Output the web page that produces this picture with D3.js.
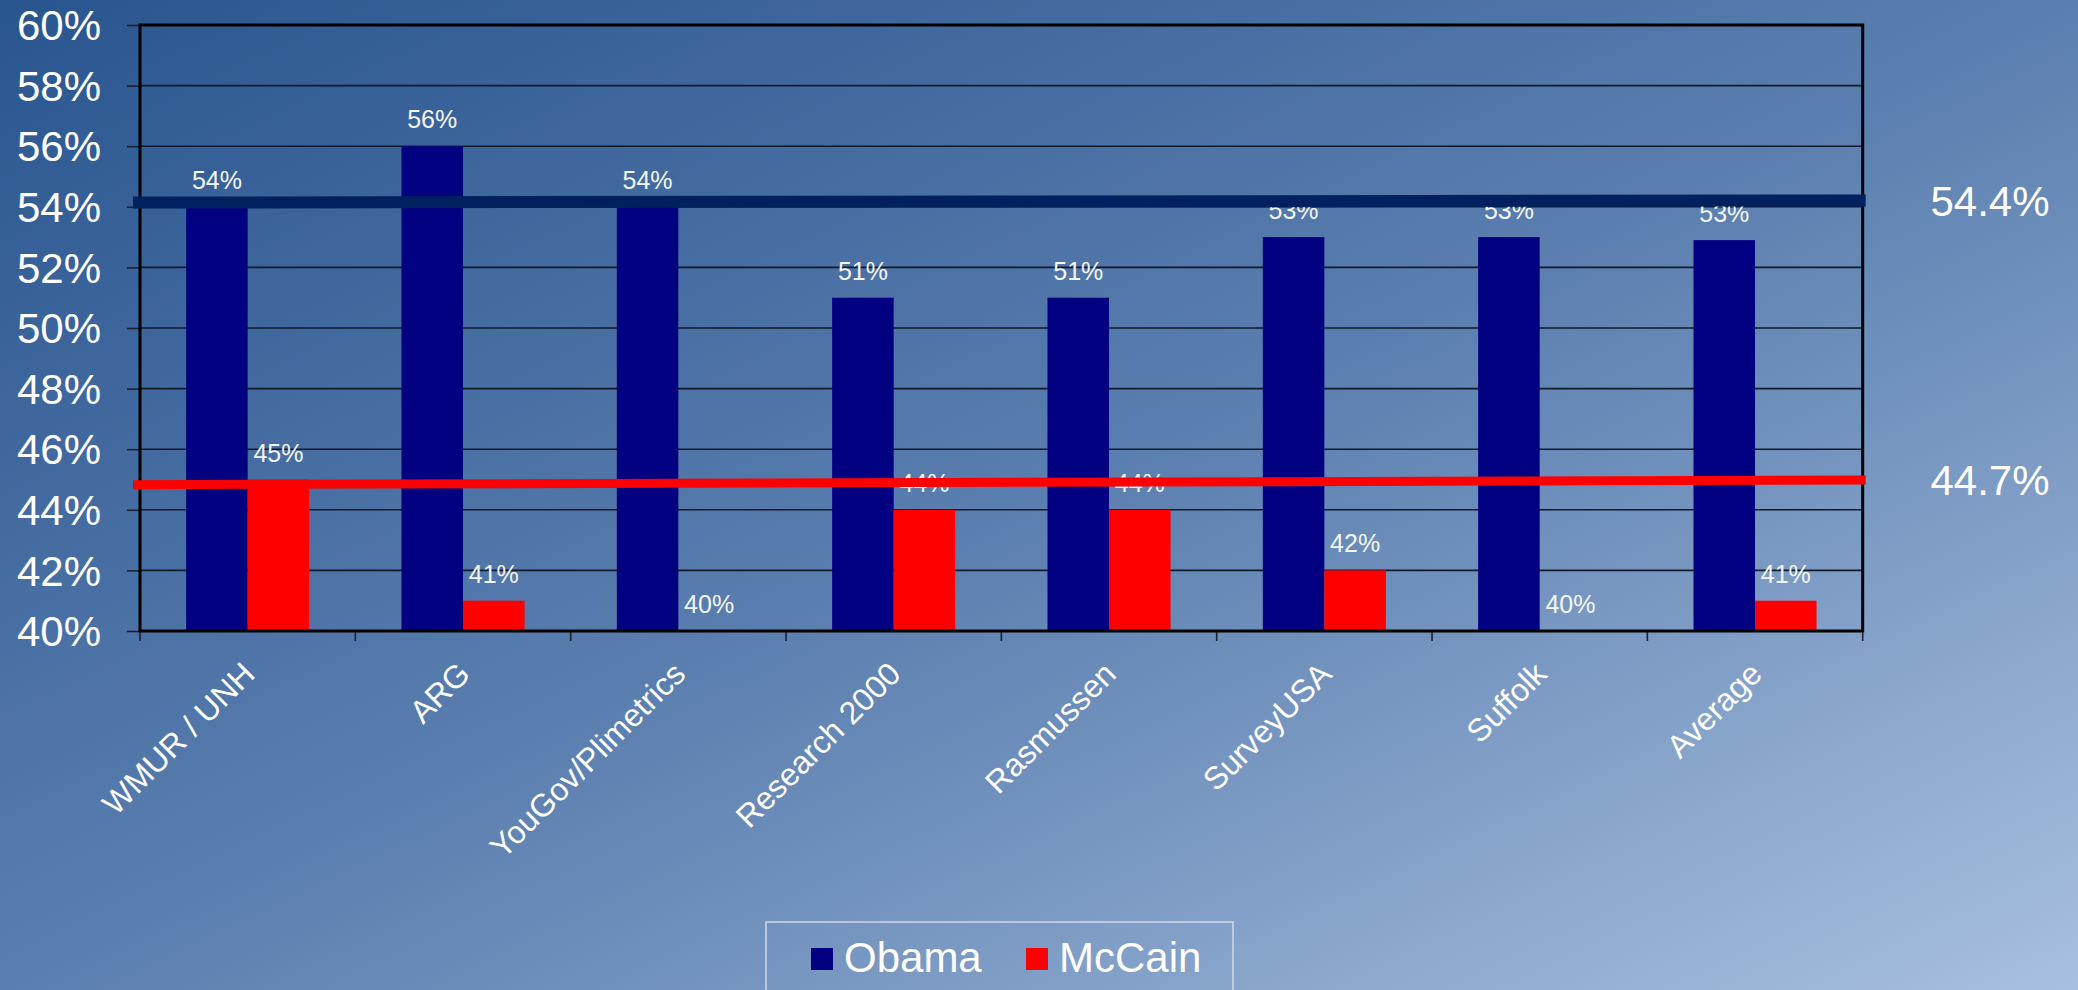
<!DOCTYPE html>
<html>
<head>
<meta charset="utf-8">
<script src="https://cdn.jsdelivr.net/npm/d3@7"></script>
<style>
  html, body { margin: 0; padding: 0; overflow: hidden; }
  svg { display: block; font-family: "Liberation Sans", Arial, sans-serif; }
</style>
</head>
<body>
<svg id="chart" width="2078" height="990"></svg>
<script>
// ---- data ----
const categories = ["WMUR / UNH", "ARG", "YouGov/Plimetrics", "Research 2000", "Rasmussen", "SurveyUSA", "Suffolk", "Average"];
const seriesNames = ["Obama", "McCain"];
const obamaValues = [54, 56, 54, 51, 51, 53, 53, 52.9];
const mccainValues = [45, 41, 40, 44, 44, 42, 40, 41];
const yTicks = [40, 42, 44, 46, 48, 50, 52, 54, 56, 58, 60];
const avgLineLabels = ["54.4%", "44.7%"];
const avgLineStart = [54.14, 44.83];
const avgLineEnd = [54.21, 44.98];

(function () {
// ---- styles ----
const colors = { Obama: "#000080", McCain: "#ff0000" };
const lineColors = ["#00205f", "#ff0000"];
const lineWidths = [12, 9];

const svg = d3.select("#chart");
const W = 2078, H = 990;

// background gradient
const defs = svg.append("defs");
const grad = defs.append("linearGradient").attr("id", "bg")
  .attr("x1", "0").attr("y1", "0").attr("x2", "1").attr("y2", "1");
grad.append("stop").attr("offset", "0").attr("stop-color", "#29558f");
grad.append("stop").attr("offset", "0.5").attr("stop-color", "#5a7eaf");
grad.append("stop").attr("offset", "1").attr("stop-color", "#a8c0df");
svg.append("rect").attr("width", W).attr("height", H).attr("fill", "url(#bg)");

const pL = 140, pR = 1862.7, pT = 25, pB = 631;

const x = d3.scaleBand().domain(categories).range([pL, pR]).padding(0);
const step = x.bandwidth();
const xs = d3.scaleBand().domain(seriesNames).range([step * 3 / 14, step * 11 / 14]).padding(0);
const y = d3.scaleLinear().domain([40, 60]).range([pB, pT]);

// grid lines
svg.append("g").selectAll("line").data(yTicks.slice(1, -1)).join("line")
  .attr("x1", pL).attr("x2", pR)
  .attr("y1", d => y(d)).attr("y2", d => y(d))
  .attr("stroke", "#111a2a").attr("stroke-width", 1.6);

// y axis ticks + labels
const yAxis = d3.axisLeft(y).tickValues(yTicks).tickSize(13).tickFormat(d => d + "%");
const ya = svg.append("g").attr("transform", `translate(${pL},0)`).call(yAxis);
ya.select(".domain").remove();
ya.selectAll(".tick line").attr("stroke", "#1a2230").attr("stroke-width", 1.6);
ya.selectAll(".tick text")
  .attr("x", -39).attr("dy", "0.35em")
  .attr("fill", "#ffffff").attr("font-size", 42)
  .attr("font-family", "'Liberation Sans', Arial, sans-serif");

// bars
const rows = categories.map((c, i) => ({ cat: c, Obama: obamaValues[i], McCain: mccainValues[i] }));
const groups = svg.append("g").selectAll("g").data(rows).join("g")
  .attr("transform", d => `translate(${x(d.cat)},0)`);
groups.selectAll("rect").data(d => seriesNames.map(s => ({ s, v: d[s] }))).join("rect")
  .attr("x", d => xs(d.s)).attr("width", xs.bandwidth())
  .attr("y", d => y(d.v)).attr("height", d => y(40) - y(d.v))
  .attr("fill", d => colors[d.s]);

// value labels
groups.selectAll("text").data(d => seriesNames.map(s => ({ s, v: d[s] }))).join("text")
  .attr("x", d => xs(d.s) + xs.bandwidth() / 2)
  .attr("y", d => y(d.v) - 18)
  .attr("text-anchor", "middle")
  .attr("fill", "#f4f6fa").attr("font-size", 25)
  .text(d => Math.round(d.v) + "%");

// x axis category ticks
const xTickPos = categories.map((c) => x(c)).concat([pR]);
svg.append("g").selectAll("line").data(xTickPos).join("line")
  .attr("x1", d => d).attr("x2", d => d)
  .attr("y1", pB).attr("y2", pB + 10)
  .attr("stroke", "#1a2230").attr("stroke-width", 1.6);

// x labels
svg.append("g").selectAll("text").data(categories).join("text")
  .attr("transform", d => `translate(${x(d) + step / 2 + 1},${pB + 37}) rotate(-45)`)
  .attr("text-anchor", "end").attr("dy", "0.35em")
  .attr("fill", "#ffffff").attr("font-size", 32)
  .text(d => d);

// frame
svg.append("path")
  .attr("d", `M${pL},${pB}V${pT}H${pR}V${pB}Z`)
  .attr("fill", "none").attr("stroke", "#000").attr("stroke-width", 3);

// average reference lines
const refs = avgLineLabels.map((l, i) => ({ label: l, a: avgLineStart[i], b: avgLineEnd[i], c: lineColors[i], w: lineWidths[i] }));
svg.append("g").selectAll("line").data(refs).join("line")
  .attr("x1", pL - 7).attr("x2", pR + 3)
  .attr("y1", d => y(d.a)).attr("y2", d => y(d.b))
  .attr("stroke", d => d.c).attr("stroke-width", d => d.w);
svg.append("g").selectAll("text").data(refs).join("text")
  .attr("x", 1990).attr("y", d => y(d.b)).attr("dy", "0.36em")
  .attr("text-anchor", "middle")
  .attr("fill", "#ffffff").attr("font-size", 42)
  .text(d => d.label);

// legend
const lg = svg.append("g");
lg.append("rect").attr("x", 766).attr("y", 922).attr("width", 467).attr("height", 90)
  .attr("fill", "none").attr("stroke", "#cfd9e8").attr("stroke-width", 1.5);
const legendX = [811, 1026];
seriesNames.forEach((s, i) => {
  lg.append("rect").attr("x", legendX[i]).attr("y", 948).attr("width", 22).attr("height", 22).attr("fill", colors[s]);
  lg.append("text").attr("x", legendX[i] + 33).attr("y", 972)
    .attr("fill", "#ffffff").attr("font-size", 42).text(s);
});
})();
</script>
</body>
</html>
